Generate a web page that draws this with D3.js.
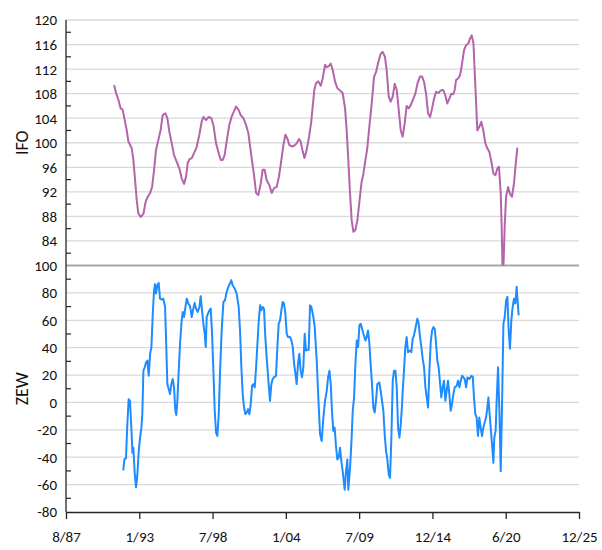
<!DOCTYPE html>
<html>
<head>
<meta charset="utf-8">
<script src="https://cdn.jsdelivr.net/npm/d3@7"></script>
<style>
  body { margin: 0; background: #fff; }
  svg text { font-family: Calibri, Carlito, "Liberation Sans", Arial, sans-serif; fill: #111; }
</style>
</head>
<body>
<div id="chart"></div>
<script>
// IFO business climate, [decimal year, value]
const ifoData = [
  [1991.20,109.4],[1991.35,108.1],[1991.52,107.0],[1991.69,105.6],[1991.84,105.4],[1991.94,104.3],[1992.14,102.1],[1992.27,100.2],
  [1992.52,99.1],[1992.64,97.2],[1992.77,93.9],[1992.89,90.7],[1993.01,88.5],[1993.19,87.9],[1993.39,88.4],[1993.56,90.4],
  [1993.71,91.2],[1993.89,91.8],[1994.04,92.8],[1994.19,95.6],[1994.33,98.8],[1994.51,100.5],[1994.68,102.1],[1994.83,104.5],
  [1995.03,104.8],[1995.18,104.0],[1995.33,101.8],[1995.51,99.9],[1995.68,98.0],[1995.88,96.9],[1996.08,95.8],[1996.25,94.2],
  [1996.43,93.3],[1996.58,94.5],[1996.70,96.7],[1996.82,97.3],[1997.00,97.5],[1997.17,98.3],[1997.37,99.3],[1997.57,101.3],
  [1997.75,103.5],[1997.87,104.2],[1998.07,103.7],[1998.27,104.2],[1998.47,104.0],[1998.62,102.9],[1998.82,99.9],[1999.02,98.3],
  [1999.17,97.2],[1999.32,97.2],[1999.46,98.0],[1999.61,100.2],[1999.81,102.9],[1999.99,104.3],[2000.16,105.1],[2000.31,105.9],
  [2000.49,105.4],[2000.66,104.5],[2000.86,104.0],[2001.06,102.9],[2001.23,101.6],[2001.36,99.4],[2001.53,96.7],[2001.66,94.7],
  [2001.81,91.8],[2001.98,91.5],[2002.16,93.4],[2002.30,95.6],[2002.45,95.6],[2002.60,93.9],[2002.80,93.1],[2002.98,91.8],
  [2003.15,92.6],[2003.35,92.8],[2003.52,94.5],[2003.67,96.7],[2003.85,99.6],[2004.00,101.3],[2004.15,100.7],[2004.30,99.6],
  [2004.47,99.4],[2004.65,99.5],[2004.84,99.9],[2005.02,100.6],[2005.14,100.2],[2005.29,98.6],[2005.42,97.5],[2005.59,98.8],
  [2005.77,101.0],[2005.92,103.2],[2006.04,105.9],[2006.16,108.6],[2006.29,109.7],[2006.46,110.0],[2006.64,109.3],[2006.79,110.5],
  [2006.96,112.7],[2007.09,112.3],[2007.24,112.5],[2007.39,112.9],[2007.53,111.9],[2007.71,110.0],[2007.88,108.9],[2008.08,108.5],
  [2008.28,108.1],[2008.46,105.6],[2008.58,102.0],[2008.70,97.2],[2008.83,91.7],[2008.95,87.4],[2009.08,85.5],[2009.23,85.8],
  [2009.38,87.4],[2009.53,90.4],[2009.68,93.4],[2009.83,95.0],[2009.98,97.2],[2010.12,99.1],[2010.27,102.6],[2010.45,106.4],
  [2010.62,110.7],[2010.77,111.5],[2010.95,113.2],[2011.12,114.5],[2011.27,114.8],[2011.44,114.0],[2011.57,111.8],[2011.72,107.5],
  [2011.87,106.7],[2012.02,107.5],[2012.17,109.6],[2012.32,108.6],[2012.47,105.3],[2012.62,102.0],[2012.76,101.0],[2012.91,103.1],
  [2013.06,106.0],[2013.21,105.6],[2013.36,106.1],[2013.51,106.9],[2013.71,108.0],[2013.86,109.6],[2014.06,110.8],[2014.21,110.8],
  [2014.36,109.9],[2014.51,108.0],[2014.66,104.8],[2014.81,104.2],[2014.96,105.6],[2015.11,107.2],[2015.26,108.3],[2015.43,108.1],
  [2015.60,108.5],[2015.80,108.6],[2015.95,107.7],[2016.10,106.4],[2016.25,107.2],[2016.40,108.0],[2016.55,107.9],[2016.65,108.6],
  [2016.75,110.2],[2016.92,110.5],[2017.05,111.0],[2017.20,112.9],[2017.35,115.1],[2017.50,115.9],[2017.67,116.2],[2017.80,117.0],
  [2017.92,117.5],[2018.05,116.2],[2018.14,111.8],[2018.24,106.9],[2018.34,102.0],[2018.49,102.6],[2018.64,103.4],[2018.79,102.0],
  [2018.94,99.9],[2019.09,99.1],[2019.24,98.5],[2019.39,96.9],[2019.54,95.0],[2019.69,94.7],[2019.84,95.8],[2019.96,96.1],
  [2020.09,91.7],[2020.16,86.3],[2020.24,78.0],[2020.31,80.9],[2020.39,86.8],[2020.49,91.2],[2020.64,92.8],[2020.78,91.7],
  [2020.93,91.2],[2021.08,93.4],[2021.21,96.6],[2021.33,99.2]
];

// ZEW economic sentiment, [decimal year, value]
const zewData = [
  [1991.89,-49.7],[1991.97,-41.6],[1992.09,-40.9],[1992.19,-15.9],[1992.29,2.4],[1992.39,1.2],[1992.49,-18.4],[1992.57,-36.7],
  [1992.64,-33.1],[1992.74,-51.4],[1992.84,-62.0],[1992.94,-52.6],[1993.04,-35.5],[1993.14,-25.7],[1993.24,-18.4],[1993.31,-8.6],
  [1993.39,23.2],[1993.49,25.7],[1993.59,29.3],[1993.69,30.6],[1993.79,19.5],[1993.89,35.5],[1993.99,40.4],[1994.09,64.8],
  [1994.19,82.0],[1994.26,86.4],[1994.33,79.5],[1994.43,85.6],[1994.53,87.3],[1994.63,75.8],[1994.76,75.1],[1994.88,75.8],
  [1995.01,69.7],[1995.08,47.7],[1995.18,13.4],[1995.28,9.8],[1995.38,6.1],[1995.48,13.4],[1995.58,17.1],[1995.68,11.0],
  [1995.78,-6.1],[1995.85,-9.1],[1995.93,1.2],[1996.03,23.2],[1996.13,42.8],[1996.23,57.5],[1996.33,66.1],[1996.43,62.4],
  [1996.53,69.7],[1996.63,75.8],[1996.75,72.2],[1996.88,70.2],[1997.00,62.4],[1997.12,68.5],[1997.22,72.7],[1997.32,68.5],
  [1997.45,66.1],[1997.57,69.7],[1997.67,77.6],[1997.77,67.3],[1997.87,57.5],[1997.97,50.1],[1998.05,40.4],[1998.12,62.4],
  [1998.22,64.8],[1998.32,67.3],[1998.42,68.5],[1998.52,50.1],[1998.62,23.2],[1998.72,-6.1],[1998.82,-22.1],[1998.92,-24.5],
  [1999.02,-8.6],[1999.12,23.2],[1999.24,52.6],[1999.37,73.4],[1999.49,74.6],[1999.61,80.7],[1999.74,84.4],[1999.86,86.9],
  [1999.96,89.3],[2000.06,85.6],[2000.21,83.2],[2000.36,79.5],[2000.51,69.7],[2000.61,52.6],[2000.71,25.7],[2000.81,6.1],
  [2000.91,-3.7],[2001.01,-8.6],[2001.11,-7.4],[2001.21,-4.9],[2001.31,-8.6],[2001.41,-1.2],[2001.51,12.2],[2001.61,13.4],
  [2001.71,11.0],[2001.81,25.7],[2001.91,42.8],[2002.01,59.9],[2002.11,70.9],[2002.20,67.3],[2002.30,69.7],[2002.40,68.5],
  [2002.50,47.7],[2002.60,33.0],[2002.73,15.9],[2002.85,1.2],[2002.95,13.4],[2003.05,17.1],[2003.15,18.3],[2003.30,19.5],
  [2003.40,40.4],[2003.50,57.5],[2003.60,59.9],[2003.70,67.3],[2003.80,73.4],[2003.90,72.2],[2004.00,64.8],[2004.10,50.1],
  [2004.20,47.7],[2004.35,47.7],[2004.45,45.2],[2004.55,40.4],[2004.65,28.1],[2004.75,20.8],[2004.84,13.4],[2004.94,28.1],
  [2005.04,35.5],[2005.14,23.2],[2005.24,18.3],[2005.34,25.7],[2005.44,50.1],[2005.54,37.9],[2005.64,38.4],[2005.74,38.4],
  [2005.84,70.9],[2005.94,69.7],[2006.09,62.4],[2006.19,55.0],[2006.34,30.6],[2006.46,3.7],[2006.59,-23.3],[2006.71,-28.2],
  [2006.84,-11.0],[2006.96,1.2],[2007.09,8.5],[2007.19,18.3],[2007.29,23.2],[2007.39,13.4],[2007.48,-6.1],[2007.58,-20.8],
  [2007.68,-18.4],[2007.78,-31.8],[2007.88,-41.6],[2007.98,-40.4],[2008.08,-33.1],[2008.18,-42.9],[2008.28,-50.2],[2008.43,-63.7],
  [2008.53,-50.2],[2008.63,-41.6],[2008.70,-63.7],[2008.83,-47.8],[2008.95,-25.7],[2009.03,-6.1],[2009.13,3.7],[2009.23,28.1],
  [2009.33,45.2],[2009.43,40.4],[2009.53,56.3],[2009.63,57.5],[2009.73,53.8],[2009.83,50.1],[2009.98,45.2],[2010.07,47.7],
  [2010.17,52.6],[2010.27,44.0],[2010.37,28.1],[2010.47,13.4],[2010.57,-3.7],[2010.67,-7.4],[2010.77,1.2],[2010.87,13.4],
  [2011.02,14.6],[2011.12,8.5],[2011.22,1.2],[2011.32,-6.1],[2011.42,-23.3],[2011.52,-35.5],[2011.62,-41.6],[2011.72,-52.6],
  [2011.82,-55.1],[2011.92,-25.7],[2012.02,15.9],[2012.12,23.2],[2012.22,23.2],[2012.32,11.0],[2012.42,-18.4],[2012.52,-25.7],
  [2012.62,-15.9],[2012.72,-1.2],[2012.76,7.3],[2012.86,23.2],[2012.96,40.4],[2013.06,47.7],[2013.16,36.7],[2013.31,37.9],
  [2013.41,36.7],[2013.51,46.5],[2013.61,49.0],[2013.71,53.8],[2013.86,61.2],[2013.96,57.5],[2014.06,47.7],[2014.16,40.4],
  [2014.26,31.8],[2014.36,25.7],[2014.46,11.0],[2014.56,3.7],[2014.66,-3.7],[2014.76,23.2],[2014.86,44.0],[2014.96,52.6],
  [2015.06,55.0],[2015.16,53.8],[2015.26,42.8],[2015.35,30.6],[2015.45,25.7],[2015.55,14.6],[2015.65,3.7],[2015.75,11.0],
  [2015.85,15.9],[2015.95,1.2],[2016.05,8.5],[2016.15,15.9],[2016.25,6.1],[2016.35,-6.1],[2016.45,-1.2],[2016.55,6.1],
  [2016.65,11.0],[2016.80,12.2],[2016.90,15.9],[2017.00,11.0],[2017.10,15.9],[2017.20,19.5],[2017.30,18.3],[2017.40,17.1],
  [2017.50,11.0],[2017.60,18.3],[2017.75,17.1],[2017.90,19.5],[2018.00,18.8],[2018.09,3.7],[2018.19,-8.6],[2018.29,-11.0],
  [2018.39,-24.5],[2018.49,-11.0],[2018.59,-18.4],[2018.69,-24.5],[2018.79,-18.4],[2018.89,-14.7],[2018.99,-11.0],[2019.09,-3.7],
  [2019.17,3.7],[2019.24,-6.1],[2019.34,-18.4],[2019.44,-30.6],[2019.54,-44.1],[2019.61,-25.7],[2019.71,-20.8],[2019.79,2.4],
  [2019.89,25.7],[2019.99,-6.1],[2020.09,-50.2],[2020.19,-1.2],[2020.29,57.5],[2020.39,62.4],[2020.49,74.6],[2020.59,77.1],
  [2020.68,52.6],[2020.78,39.2],[2020.88,59.9],[2020.98,69.7],[2021.08,75.8],[2021.18,72.2],[2021.28,84.4],[2021.31,79.5],
  [2021.43,63.6]
];

const ifoTicks = [84, 88, 92, 96, 100, 104, 108, 112, 116, 120];
const zewTicks = [-80, -60, -40, -20, 0, 20, 40, 60, 80, 100];
const xTickLabels = ["8/87", "1/93", "7/98", "1/04", "7/09", "12/14", "6/20", "12/25"];

const W = 602, H = 550;
const left = 66, right = 579;
const topY = 20, midY = 265.5, botY = 512;

function yearToDate(v) {
  const y = Math.floor(v);
  const a = new Date(y, 0, 1), b = new Date(y + 1, 0, 1);
  return new Date(+a + (v - y) * (b - a));
}

const xStart = new Date(1987, 7, 11);
const DAY = 864e5;
const xTicks = xTickLabels.map((d, i) => new Date(+xStart + i * 2000 * DAY));

const x = d3.scaleTime()
  .domain([xStart, xTicks[xTicks.length - 1]])
  .range([left, right]);

const yIfo = d3.scaleLinear().domain([80, 120]).range([midY, topY]);
const yZew = d3.scaleLinear().domain([-80, 100]).range([botY, midY]);

const svg = d3.select("#chart").append("svg")
  .attr("width", W)
  .attr("height", H);

const defs = svg.append("defs");
defs.append("clipPath").attr("id", "clipTop")
  .append("rect").attr("x", left).attr("y", topY - 2).attr("width", right - left).attr("height", midY - topY + 2);
defs.append("clipPath").attr("id", "clipBot")
  .append("rect").attr("x", left).attr("y", midY).attr("width", right - left).attr("height", botY - midY);

// gridlines
svg.append("g")
  .selectAll("line")
  .data(ifoTicks)
  .enter().append("line")
  .attr("x1", left).attr("x2", right)
  .attr("y1", d => yIfo(d)).attr("y2", d => yIfo(d))
  .attr("stroke", "#d9d9d9").attr("stroke-width", 1.3);

svg.append("g")
  .selectAll("line")
  .data(zewTicks.filter(d => d > -80 && d < 100))
  .enter().append("line")
  .attr("x1", left).attr("x2", right)
  .attr("y1", d => yZew(d)).attr("y2", d => yZew(d))
  .attr("stroke", "#d9d9d9").attr("stroke-width", 1.3);

// separator between the panels (IFO base line)
svg.append("line")
  .attr("x1", left).attr("x2", right)
  .attr("y1", midY).attr("y2", midY)
  .attr("stroke", "#a6a6a6").attr("stroke-width", 1.8);

// y tick labels
svg.append("g")
  .selectAll("text")
  .data(ifoTicks)
  .enter().append("text")
  .attr("x", left - 9)
  .attr("y", d => yIfo(d))
  .attr("dy", "0.36em")
  .attr("text-anchor", "end")
  .attr("font-size", 15)
  .text(d => d);

svg.append("g")
  .selectAll("text")
  .data(zewTicks)
  .enter().append("text")
  .attr("x", left - 9)
  .attr("y", d => yZew(d))
  .attr("dy", "0.36em")
  .attr("text-anchor", "end")
  .attr("font-size", 15)
  .text(d => d);

// minor ticks, halfway between labels, pointing into the plot
const minorTop = ifoTicks.map(d => d - 2);
const minorBot = zewTicks.slice(1).map(d => d - 10);
svg.append("g")
  .selectAll("line")
  .data(minorTop.map(d => yIfo(d)).concat(minorBot.map(d => yZew(d))))
  .enter().append("line")
  .attr("x1", left).attr("x2", left + 5)
  .attr("y1", d => d).attr("y2", d => d)
  .attr("stroke", "#262626").attr("stroke-width", 1.2);

// vertical axis line
svg.append("line")
  .attr("x1", left).attr("x2", left)
  .attr("y1", topY).attr("y2", botY)
  .attr("stroke", "#262626").attr("stroke-width", 1.3);

// bottom time axis
const xAxis = d3.axisBottom(x)
  .tickValues(xTicks)
  .tickFormat((d, i) => xTickLabels[i])
  .tickSize(7)
  .tickSizeOuter(0)
  .tickPadding(12);

const gx = svg.append("g")
  .attr("transform", "translate(0," + botY + ")")
  .call(xAxis);
gx.select(".domain").attr("stroke", "#262626").attr("stroke-width", 1.3);
gx.selectAll(".tick line").attr("stroke", "#262626").attr("stroke-width", 1.3);
gx.selectAll(".tick text")
  .attr("font-size", 15)
  .attr("font-family", "Calibri, Carlito, 'Liberation Sans', Arial, sans-serif")
  .attr("fill", "#111");

// series
const ifoLine = d3.line()
  .x(d => x(yearToDate(d[0])))
  .y(d => yIfo(d[1]));

const zewLine = d3.line()
  .x(d => x(yearToDate(d[0])))
  .y(d => yZew(d[1]));

svg.append("path")
  .datum(ifoData)
  .attr("clip-path", "url(#clipTop)")
  .attr("fill", "none")
  .attr("stroke", "#b464aa")
  .attr("stroke-width", 2)
  .attr("stroke-linejoin", "round")
  .attr("d", ifoLine);

svg.append("path")
  .datum(zewData)
  .attr("clip-path", "url(#clipBot)")
  .attr("fill", "none")
  .attr("stroke", "#1e8cff")
  .attr("stroke-width", 2)
  .attr("stroke-linejoin", "round")
  .attr("d", zewLine);

// axis titles
svg.append("text")
  .attr("transform", "translate(28," + ((topY + midY) / 2) + ") rotate(-90)")
  .attr("text-anchor", "middle")
  .attr("font-size", 18)
  .text("IFO");

svg.append("text")
  .attr("transform", "translate(28," + ((midY + botY) / 2) + ") rotate(-90)")
  .attr("text-anchor", "middle")
  .attr("font-size", 18)
  .text("ZEW");
</script>
</body>
</html>
